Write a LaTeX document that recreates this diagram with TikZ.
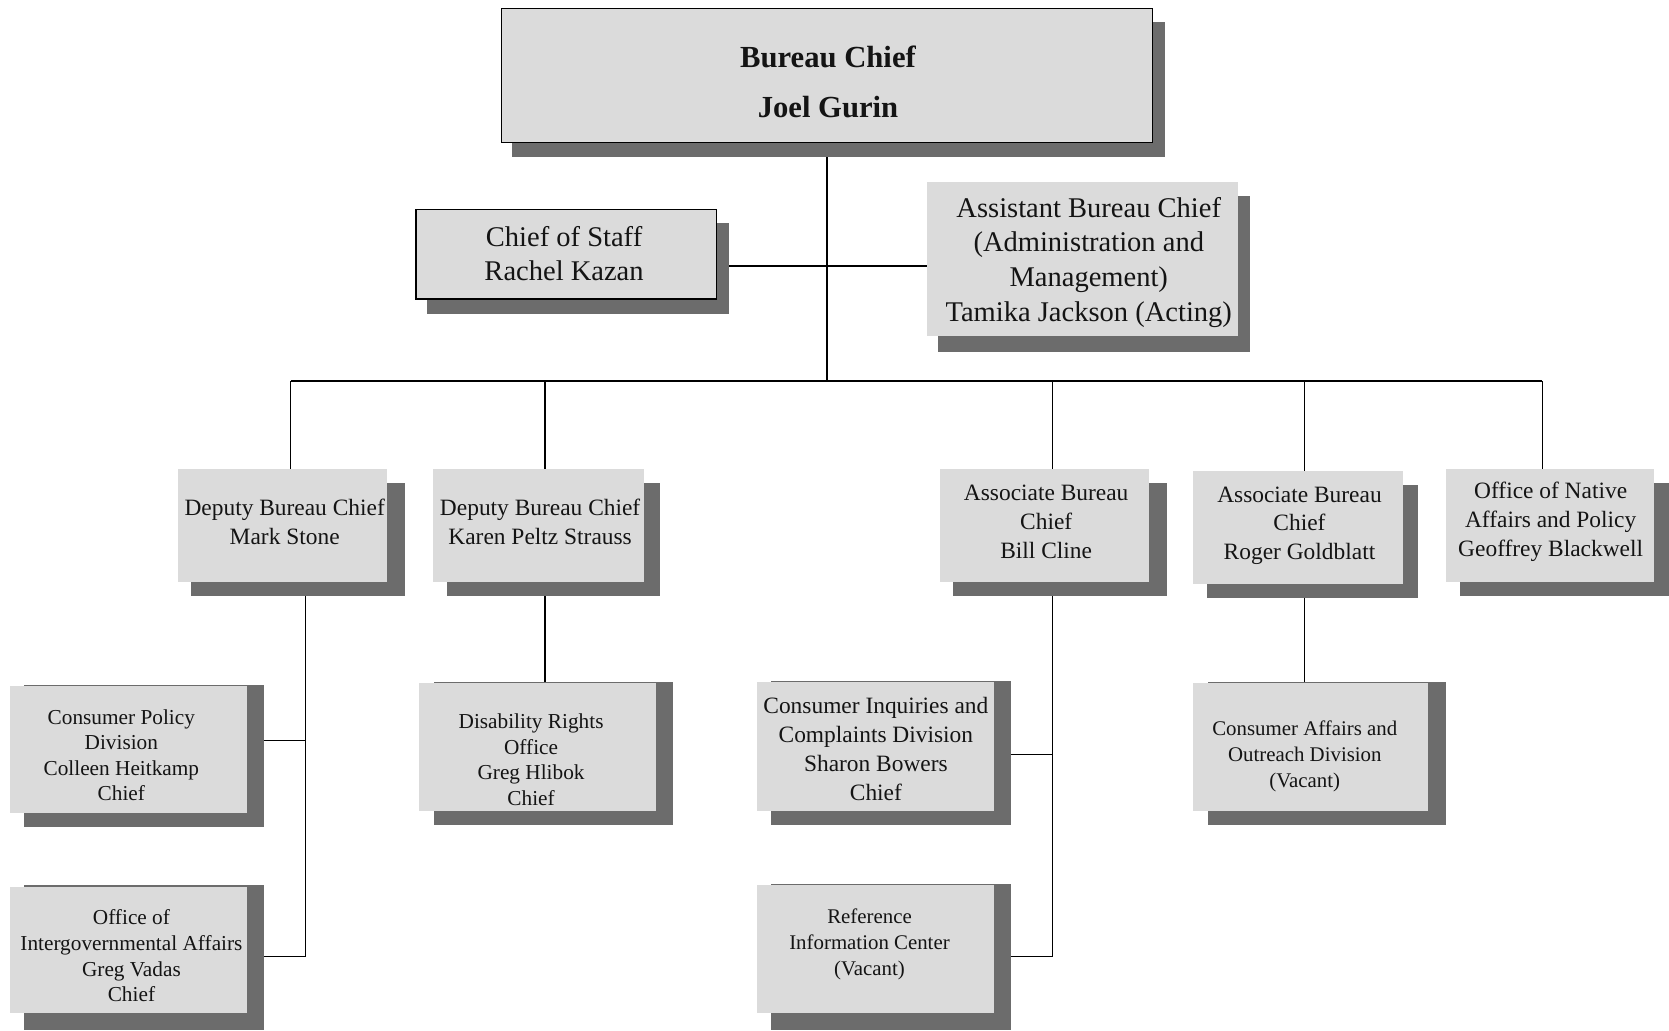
\documentclass[tikz,border=0pt]{standalone}
\usepackage{fontspec}
\setmainfont{Liberation Serif}
\usetikzlibrary{backgrounds}
\pgfdeclarelayer{bottom}
\pgfsetlayers{bottom,background,main}
\definecolor{boxfill}{RGB}{219,219,219}
\definecolor{shadowc}{RGB}{108,108,108}
\definecolor{txt}{RGB}{20,20,20}
\newcommand\dropshd[5]{\fill[shadowc] ([shift={(#2,#3)}]#1.north west) rectangle ([shift={(#4,#5)}]#1.south east);}
% text placed at offset (dx,dy) from box centre (y downwards), visual centre of lines
\newcommand\tx[3]{\raisebox{\dimexpr-0.25em-(#2pt)-3pt\relax}[0pt][0pt]{\makebox[0pt]{\hspace*{#1pt}\hspace*{#1pt}\begin{tabular}{@{}c@{}}#3\end{tabular}}}}
\begin{document}
\begin{tikzpicture}[x=1pt,y=-1pt,
  obox/.style={fill=boxfill, inner sep=0pt, text=txt},
  framed/.style={draw=black, line width=1.3pt},
  fA/.style={font=\fontsize{28.8}{47}\selectfont\bfseries},
  fB/.style={font=\fontsize{26.8}{32.5}\selectfont},
  fC/.style={font=\fontsize{22}{27}\selectfont},
  fD/.style={font=\fontsize{20}{24}\selectfont},
  fE/.style={font=\fontsize{19.6}{24.5}\selectfont},
  conn/.style={draw=black, line width=1.2pt}]
\begin{pgfonlayer}{bottom}
\useasboundingbox[fill=white] (0,0) rectangle (1568,966);
\end{pgfonlayer}

% boxes
\node[obox, framed, fA, minimum width=612pt, minimum height=126pt] (bc) at (777,71) {\tx{1}{2.5}{Bureau Chief\\Joel Gurin}};
\node[obox, framed, fB, minimum width=282pt, minimum height=84pt] (cos) at (532,239) {\tx{-2}{-1.5}{Chief of Staff\\Rachel Kazan}};
\node[obox, fB, minimum width=292pt, minimum height=145pt] (abc) at (1017,243.5) {\tx{6}{-0.5}{Assistant Bureau Chief\\(Administration and\\Management)\\Tamika Jackson (Acting)}};

\node[obox, fC, minimum width=197pt, minimum height=106pt] (d1) at (265.5,494) {\tx{2}{-4.5}{Deputy Bureau Chief\\Mark Stone}};
\node[obox, fC, minimum width=198pt, minimum height=106pt] (d2) at (506,494) {\tx{1.5}{-4.5}{Deputy Bureau Chief\\Karen Peltz Strauss}};
\node[obox, fC, minimum width=197pt, minimum height=106pt] (a1) at (981.5,494) {\tx{1.5}{-5}{Associate Bureau\\Chief\\Bill Cline}};
\node[obox, fC, minimum width=197pt, minimum height=106pt] (a2) at (1219.5,496) {\tx{1.5}{-6}{Associate Bureau\\Chief\\Roger Goldblatt}};
\node[obox, fC, minimum width=195pt, minimum height=106pt] (nat) at (1456.5,494) {\tx{0.5}{-7}{Office of Native\\Affairs and Policy\\Geoffrey Blackwell}};

\node[obox, fD, minimum width=223pt, minimum height=119pt] (cp) at (120.5,704.5) {\tx{-6.5}{4.5}{Consumer Policy\\Division\\Colleen Heitkamp\\Chief}};
\node[obox, fD, minimum width=223pt, minimum height=119pt] (ig) at (120.5,892.5) {\tx{3}{5}{Office of\\Intergovernmental Affairs\\Greg Vadas\\Chief}};
\node[obox, fD, minimum width=222pt, minimum height=120pt] (dr) at (505,702) {\tx{-6}{11}{Disability Rights\\Office\\Greg Hlibok\\Chief}};
\node[obox, fC, minimum width=223pt, minimum height=121pt] (ci) at (822.5,701.5) {\tx{0.5}{1}{Consumer Inquiries and\\Complaints Division\\Sharon Bowers\\Chief}};
\node[obox, fE, minimum width=223pt, minimum height=120pt] (ric) at (822.5,892) {\tx{-5.5}{-7.5}{Reference\\Information Center\\(Vacant)}};
\node[obox, fE, minimum width=221pt, minimum height=120pt] (ca) at (1231.5,702) {\tx{-5.5}{5.5}{Consumer Affairs and\\Outreach Division\\(Vacant)}};

% junction coordinates
\coordinate (top) at (777,358);
\coordinate (hy) at (777,250);
\coordinate (j1) at (273,358);
\coordinate (j2) at (512,358);
\coordinate (j3) at (989,358);
\coordinate (j4) at (1226,358);
\coordinate (j5) at (1449,358);
\coordinate (v1a) at (287,696);
\coordinate (v1b) at (287,899);
\coordinate (v3a) at (989,709);
\coordinate (v3b) at (989,899);

\begin{scope}[on background layer]
  % connectors
  \draw[conn] (bc.south) -- (top);
  \draw[conn] (cos.east |- hy) -- (abc.west |- hy);
  \draw[conn] (j1) -- (j5);
  \draw[conn] (j1) -- (j1 |- d1.north);
  \draw[conn] (j2) -- (j2 |- d2.north);
  \draw[conn] (j3) -- (j3 |- a1.north);
  \draw[conn] (j4) -- (j4 |- a2.north);
  \draw[conn] (j5) -- (j5 |- nat.north);
  \draw[conn] (v1a |- d1.south) -- (v1b);
  \draw[conn] (v1a) -- (v1a -| cp.east);
  \draw[conn] (v1b) -- (v1b -| ig.east);
  \draw[conn] (j2 |- d2.south) -- (j2 |- dr.north);
  \draw[conn] (v3a |- a1.south) -- (v3b);
  \draw[conn] (v3a) -- (v3a -| ci.east);
  \draw[conn] (v3b) -- (v3b -| ric.east);
  \draw[conn] (j4 |- a2.south) -- (j4 |- ca.north);
  % shadows
  \dropshd{bc}{11}{13}{11}{13}
  \dropshd{cos}{11}{13}{11}{13}
  \dropshd{abc}{11}{13}{11}{15}
  \dropshd{d1}{13}{13}{16}{13}
  \dropshd{d2}{13}{13}{15}{13}
  \dropshd{a1}{13}{13}{16}{13}
  \dropshd{a2}{13}{13}{14}{13}
  \dropshd{nat}{13}{13}{14}{13}
  \dropshd{cp}{14}{-1}{16}{13}
  \dropshd{ig}{14}{-1}{16}{16}
  \dropshd{dr}{14}{-1}{16}{13}
  \dropshd{ci}{14}{-1}{16}{13}
  \dropshd{ric}{14}{-1}{16}{16}
  \dropshd{ca}{14}{-1}{16}{13}
\end{scope}
\end{tikzpicture}
\end{document}
